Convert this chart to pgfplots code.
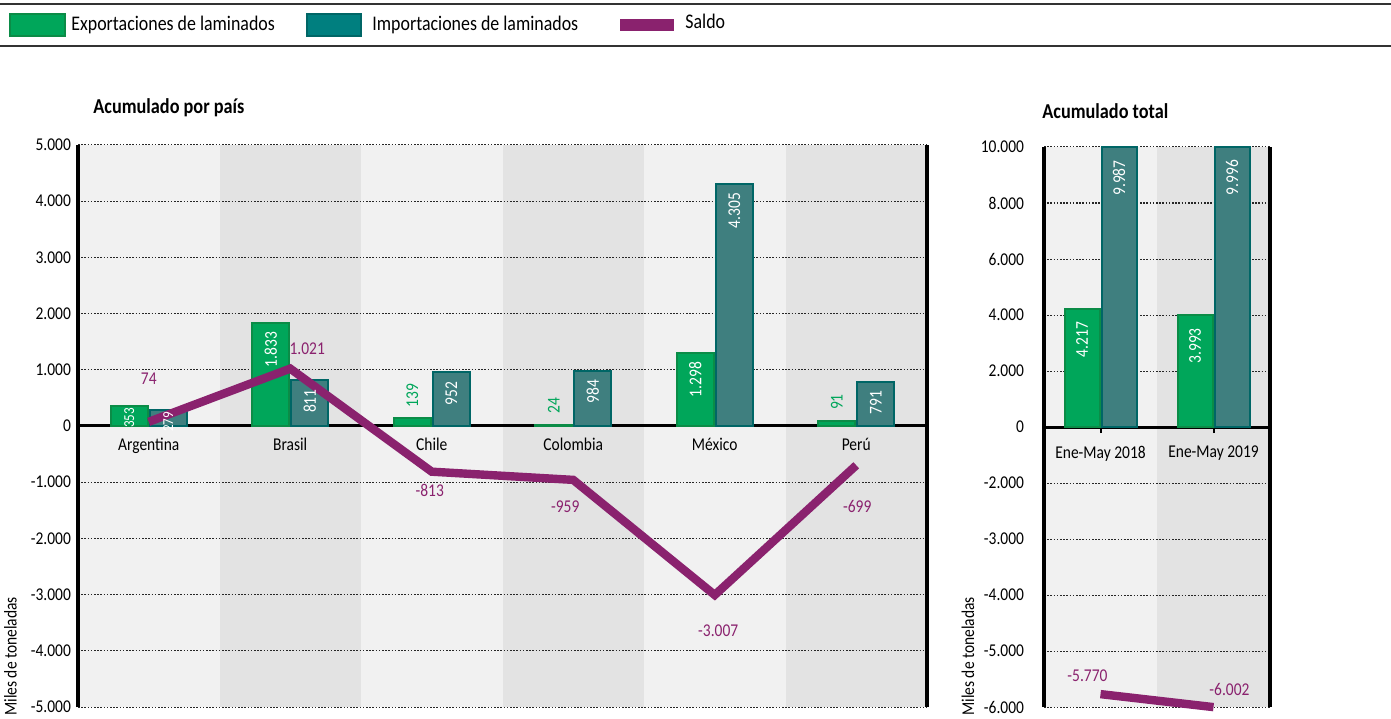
\documentclass[border=0pt]{standalone}
\usepackage{graphicx}
\usepackage{pgfplots}
\usepackage{pgfplotstable}
\pgfplotsset{compat=1.18}
\usepackage{fontspec}
\setmainfont{Carlito}[FakeStretch=0.86]
\definecolor{expg}{HTML}{00A65A}
\definecolor{expgd}{HTML}{0B8C47}
\definecolor{impt}{HTML}{3F7F7F}
\definecolor{imptd}{HTML}{006666}
\definecolor{legt}{HTML}{007F7F}
\definecolor{sal}{HTML}{8A226E}
\definecolor{bandA}{HTML}{F1F1F1}
\definecolor{bandB}{HTML}{E3E3E3}
\newcommand{\tickfont}{\fontsize{9}{10}\selectfont}
\newcommand{\smallfont}{\fontsize{7.6}{8}\selectfont}
\newcommand{\legfont}{\fontsize{10.4}{11}\selectfont}
\newcommand{\titfont}{\fontsize{10.6}{12}\selectfont\bfseries}
% defaults for the bar value labels (changed per point by coordinate style)
\def\labanc{north}\def\labcol{white}\def\labsep{4pt}\def\labfont{\tickfont}

\pgfplotstableread{
x y
0 353
1 1833
2 139
3 24
4 1298
5 91
}\expleft
\pgfplotstableread{
x y
0 279
1 811
2 952
3 984
4 4305
5 791
}\impleft
\pgfplotstableread{
x y
0 74
1 1021
2 -813
3 -959
4 -3007
5 -699
}\salleft
\pgfplotstableread{
x y
0 4217
1 3993
}\expright
\pgfplotstableread{
x y
0 9987
1 9996
}\impright
\pgfplotstableread{
x y
0 -5770
1 -6002
}\salright

\pgfplotsset{
  panel/.style={
    scale only axis, clip=false,
    axis x line*=middle, axis y line*=box,
    x axis line style={line width=1.5pt, black},
    y axis line style={line width=1.8pt, black},
    ymajorgrids,
    major grid style={black!85, line width=0.5pt, dash pattern=on 0.8pt off 0.8pt},
    ytick style={draw=none},
    tick label style={font=\tickfont},
    scaled y ticks=false,
    /pgf/number format/1000 sep={.},
    /pgf/number format/use comma,
    /pgf/number format/assume math mode=true,
  },
  barlab/.style={
    nodes near coords={\rotatebox{90}{\pgfmathprintnumber{\pgfplotspointmeta}}},
    point meta=explicit,
    nodes near coords style={anchor=\labanc, text=\labcol, xshift=#1,
      inner ysep=\labsep, inner xsep=0pt, font=\labfont},
  },
  sallab/.style={
    nodes near coords, point meta=explicit,
    nodes near coords style={anchor=center, text=sal, inner sep=0pt, font=\tickfont},
  },
}

\begin{document}
\begin{tikzpicture}
\path[use as bounding box] (0,0) rectangle (695.5pt,359pt);
% legend
\draw[line width=1pt, black!80] (0,357pt) -- (695.5pt,357pt);
\draw[line width=0.8pt, black!80] (0,336pt) -- (695.5pt,336pt);
\filldraw[fill=expg, draw=expgd, line width=0.6pt] (5pt,341pt) rectangle (32.5pt,352pt);
\node[anchor=base west, inner sep=0pt, font=\legfont] at (35.5pt,343.5pt) {Exportaciones de laminados};
\filldraw[fill=legt, draw=imptd, line width=0.6pt] (153.5pt,341pt) rectangle (180.5pt,352pt);
\node[anchor=base west, inner sep=0pt, font=\legfont] at (186pt,343.5pt) {Importaciones de laminados};
\fill[sal] (310pt,343.5pt) rectangle (337pt,349.5pt);
\node[anchor=base west, inner sep=0pt, font=\legfont] at (342.5pt,344.5pt) {Saldo};
% titles
\node[anchor=base west, inner sep=0pt, font=\titfont] at (46.5pt,302pt) {Acumulado por país};
\node[anchor=base west, inner sep=0pt, font=\titfont] at (521pt,299.5pt) {Acumulado total};
% y labels
\node[rotate=90, anchor=west, inner sep=0pt, font=\tickfont] at (5.25pt,1pt) {Miles de toneladas};
\node[rotate=90, anchor=west, inner sep=0pt, font=\tickfont] at (484pt,1pt) {Miles de toneladas};
% background bands (left panel: 39pt..463.5pt, right panel: 522pt..635pt)
\fill[bandA] (39pt,5.5pt) rectangle (109.75pt,286.5pt);
\fill[bandB] (109.75pt,5.5pt) rectangle (180.5pt,286.5pt);
\fill[bandA] (180.5pt,5.5pt) rectangle (251.25pt,286.5pt);
\fill[bandB] (251.25pt,5.5pt) rectangle (322pt,286.5pt);
\fill[bandA] (322pt,5.5pt) rectangle (392.75pt,286.5pt);
\fill[bandB] (392.75pt,5.5pt) rectangle (463.5pt,286.5pt);
\fill[bandA] (522pt,5.5pt) rectangle (578.5pt,285.5pt);
\fill[bandB] (578.5pt,5.5pt) rectangle (635pt,285.5pt);

\begin{axis}[panel,
  at={(39pt,5.5pt)}, anchor=south west,
  width=424.5pt, height=281pt,
  xmin=-0.5, xmax=5.5, ymin=-5000, ymax=5000,
  ytick={-5000,-4000,...,5000},
  xtick={0,...,5},
  xticklabels={Argentina,Brasil,Chile,Colombia,México,Perú},
  xtick style={draw=none},
  xticklabel style={yshift=-2.5pt},
]
\addplot[ybar, bar width=18.5pt, bar shift=-9.75pt, fill=expg, draw=expgd, line width=1pt, barlab=-9.75pt,
  coordinate style/.condition={y<400}{/utils/exec={\def\labsep{0.3pt}\def\labfont{\smallfont}}},
  coordinate style/.condition={y<200}{/utils/exec={\def\labanc{south}\def\labcol{expg}\def\labsep{5pt}\def\labfont{\tickfont}}}]
  table[x=x, y=y, meta=y] {\expleft};
\addplot[ybar, bar width=18.5pt, bar shift=9.75pt, fill=impt, draw=imptd, line width=1pt, barlab=9.75pt,
  coordinate style/.condition={y<400}{/utils/exec={\def\labsep{0.3pt}\def\labfont{\smallfont}}}]
  table[x=x, y=y, meta=y] {\impleft};
\addplot[sal, line width=4.2pt, line join=miter, sharp plot, mark=none, sallab,
  coordinate style/.condition={x==0}{xshift=0pt, yshift=21.5pt},
  coordinate style/.condition={x==1}{xshift=8.5pt, yshift=10pt},
  coordinate style/.condition={x==2}{xshift=-1pt, yshift=-9.5pt},
  coordinate style/.condition={x==3}{xshift=-4pt, yshift=-13.5pt},
  coordinate style/.condition={x==4}{xshift=1.75pt, yshift=-18pt},
  coordinate style/.condition={x==5}{xshift=0.5pt, yshift=-20.5pt}]
  table[x=x, y=y, meta=y] {\salleft};
\end{axis}

\begin{axis}[panel,
  at={(522pt,5.5pt)}, anchor=south west,
  width=113pt, height=280pt,
  xmin=-0.5, xmax=1.5, ymin=-5, ymax=5,
  y filter/.expression={y>=-2000 ? y/2000 : y/1000+1},
  ytick={-5,...,5},
  yticklabels={-6.000,-5.000,-4.000,-3.000,-2.000,0,2.000,4.000,6.000,8.000,10.000},
  yticklabel style={xshift=-3.5pt},
  xtick={0,1},
  xticklabels={Ene-May 2018,Ene-May 2019},
  xtick style={draw=black, line width=1pt},
  tick align=outside, major tick length=3pt,
  xticklabel style={yshift=-3pt},
]
\addplot[ybar, bar width=17.5pt, bar shift=-9.25pt, fill=expg, draw=expgd, line width=1pt, barlab=-9.25pt,
  coordinate style/.condition={x>-1}{/utils/exec={\def\labsep{6pt}}}]
  table[x=x, y=y, meta=y] {\expright};
\addplot[ybar, bar width=17.5pt, bar shift=9.25pt, fill=impt, draw=imptd, line width=1pt, barlab=9.25pt,
  coordinate style/.condition={x>-1}{/utils/exec={\def\labsep{6pt}}}]
  table[x=x, y=y, meta=y] {\impright};
\addplot[sal, line width=4.2pt, sharp plot, mark=none, sallab,
  coordinate style/.condition={x==0}{xshift=-6.5pt, yshift=9.25pt},
  coordinate style/.condition={x==1}{xshift=8pt, yshift=8.8pt}]
  table[x=x, y=y, meta=y] {\salright};
\end{axis}
\end{tikzpicture}
\end{document}
